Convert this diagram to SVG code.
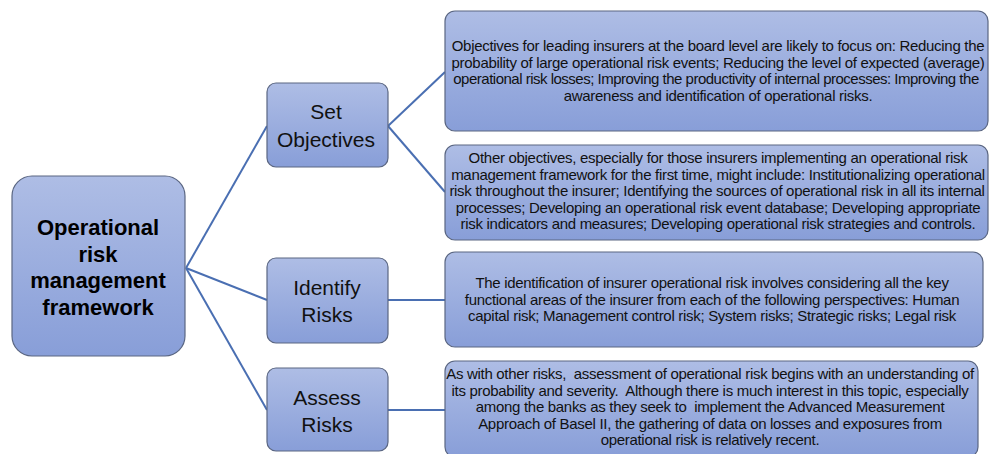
<svg xmlns="http://www.w3.org/2000/svg" width="989" height="454" viewBox="0 0 989 454">
<defs>
<linearGradient id="g" x1="0" y1="0" x2="0" y2="1">
<stop offset="0" stop-color="#aebde5"/>
<stop offset="1" stop-color="#889ed8"/>
</linearGradient>
<style>
.box{fill:url(#g);stroke:#5a6682;stroke-width:1.2}
.conn{stroke:#4a6fb2;stroke-width:2;fill:none}
.root{font-family:"Liberation Sans",Arial,sans-serif;font-weight:bold;font-size:22px;fill:#000;text-anchor:middle}
.mid{font-family:"Liberation Sans",Arial,sans-serif;font-size:21px;fill:#111;text-anchor:middle}
.body{font-family:"Liberation Sans",Arial,sans-serif;font-size:15px;letter-spacing:-0.3px;fill:#111;text-anchor:middle}
.tight{letter-spacing:-0.5px}
.pre{white-space:pre}
</style>
</defs>
<rect width="989" height="454" fill="#fff"/>
<g id="connectors">
<line class="conn" x1="186" y1="268" x2="267" y2="126"/>
<line class="conn" x1="186" y1="268" x2="267" y2="300"/>
<line class="conn" x1="186" y1="268" x2="267" y2="410"/>
<line class="conn" x1="388" y1="126" x2="445" y2="72"/>
<line class="conn" x1="388" y1="126" x2="445" y2="192"/>
<line class="conn" x1="388" y1="300" x2="445" y2="300"/>
<line class="conn" x1="388" y1="410" x2="445" y2="410"/>
</g>
<g id="root">
<rect class="box" x="12" y="176" width="173" height="180" rx="20"/>
<text class="root" x="98" y="235">Operational</text>
<text class="root" x="98" y="262">risk</text>
<text class="root" x="98" y="288">management</text>
<text class="root" x="98" y="315">framework</text>
</g>
<g id="set-objectives">
<rect class="box" x="267" y="83" width="121" height="84" rx="9"/>
<text class="mid" x="326" y="119">Set</text>
<text class="mid" x="326" y="147">Objectives</text>
</g>
<g id="identify-risks">
<rect class="box" x="267" y="258" width="121" height="85" rx="9"/>
<text class="mid" x="327" y="295">Identify</text>
<text class="mid" x="327" y="322">Risks</text>
</g>
<g id="assess-risks">
<rect class="box" x="267" y="368" width="121" height="83" rx="9"/>
<text class="mid" x="327" y="405">Assess</text>
<text class="mid" x="327" y="432">Risks</text>
</g>
<g id="objectives-board">
<rect class="box" x="445" y="11" width="543" height="120" rx="10"/>
<text class="body" x="718" y="51">Objectives for leading insurers at the board level are likely to focus on: Reducing the</text>
<text class="body" x="718" y="67.5">probability of large operational risk events; Reducing the level of expected (average)</text>
<text class="body tight" x="716" y="84">operational risk losses; Improving the productivity of internal processes: Improving the</text>
<text class="body" x="718" y="100.5">awareness and identification of operational risks.</text>
</g>
<g id="objectives-other">
<rect class="box" x="445" y="145" width="543" height="95" rx="10"/>
<text class="body" x="718" y="163">Other objectives, especially for those insurers implementing an operational risk</text>
<text class="body" x="718" y="179.5">management framework for the first time, might include: Institutionalizing operational</text>
<text class="body" x="717" y="196">risk throughout the insurer; Identifying the sources of operational risk in all its internal</text>
<text class="body" x="718" y="212.5">processes; Developing an operational risk event database; Developing appropriate</text>
<text class="body" x="718" y="229">risk indicators and measures; Developing operational risk strategies and controls.</text>
</g>
<g id="identify-detail">
<rect class="box" x="445" y="252" width="538" height="95" rx="10"/>
<text class="body" x="712" y="288">The identification of insurer operational risk involves considering all the key</text>
<text class="body" x="712" y="304.5">functional areas of the insurer from each of the following perspectives: Human</text>
<text class="body" x="712" y="321">capital risk; Management control risk; System risks; Strategic risks; Legal risk</text>
</g>
<g id="assess-detail">
<rect class="box" x="445" y="361" width="533" height="96" rx="10"/>
<text class="body pre" x="710" y="379">As with other risks,  assessment of operational risk begins with an understanding of</text>
<text class="body pre" x="710" y="395.5">its probability and severity.  Although there is much interest in this topic, especially</text>
<text class="body pre" x="710" y="412">among the banks as they seek to  implement the Advanced Measurement</text>
<text class="body" x="710" y="428.5">Approach of Basel II, the gathering of data on losses and exposures from</text>
<text class="body" x="710" y="445">operational risk is relatively recent.</text>
</g>
</svg>
